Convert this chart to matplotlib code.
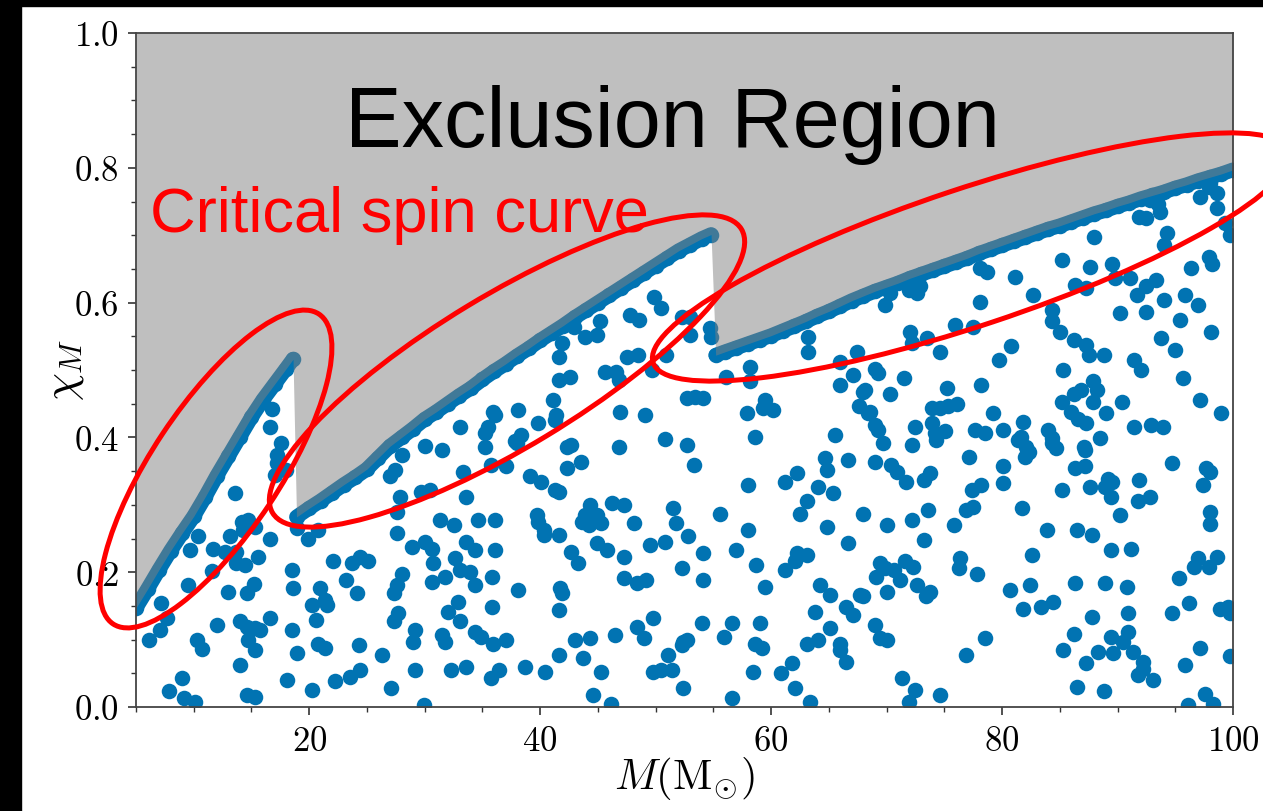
import matplotlib
matplotlib.use("Agg")
import matplotlib.pyplot as plt
import numpy as np
from matplotlib.patches import Ellipse, Rectangle
from matplotlib.ticker import MultipleLocator, FuncFormatter

plt.rcParams['mathtext.fontset'] = 'cm'
plt.rcParams['font.family'] = ['DejaVu Serif']

# ---------------- data ----------------
# critical spin curve (three branches)
crit1_x = [5.0, 6.0, 7.0, 8.0, 9.0, 10.0, 11.0, 12.0, 13.0, 14.0, 15.0, 16.0, 17.0, 18.0, 18.6]
crit1_y = [0.147, 0.175, 0.204, 0.232, 0.258, 0.283, 0.312, 0.343, 0.372, 0.401, 0.430, 0.456, 0.479, 0.502, 0.516]

crit2_x = [18.9, 20, 21, 22, 23, 24, 25, 26, 27, 28, 29, 30, 31, 32, 33, 34, 35, 36, 37, 38,
           39, 40, 41, 42, 43, 44, 45, 46, 47, 48, 49, 50, 51, 52, 53, 54, 54.8]
crit2_y = [0.282, 0.295, 0.306, 0.318, 0.330, 0.341, 0.353, 0.370, 0.387, 0.400, 0.413, 0.427,
           0.438, 0.450, 0.462, 0.473, 0.486, 0.498, 0.509, 0.521, 0.532, 0.544, 0.555, 0.566,
           0.578, 0.589, 0.600, 0.611, 0.622, 0.633, 0.644, 0.655, 0.666, 0.677, 0.686, 0.695, 0.701]

crit3_x = [55.2, 56, 57, 58, 59, 60, 61, 62, 63, 64, 65, 66, 67, 68, 69, 70, 71, 72, 73, 74, 75,
           76, 77, 78, 79, 80, 81, 82, 83, 84, 85, 86, 87, 88, 89, 90, 91, 92, 93, 94, 95, 96,
           97, 98, 99, 100]
crit3_y = [0.522, 0.527, 0.533, 0.539, 0.545, 0.551, 0.558, 0.565, 0.572, 0.580, 0.587, 0.595,
           0.603, 0.610, 0.617, 0.623, 0.629, 0.636, 0.642, 0.648, 0.654, 0.660, 0.666, 0.673,
           0.679, 0.685, 0.691, 0.697, 0.703, 0.709, 0.714, 0.720, 0.726, 0.732, 0.737, 0.743,
           0.748, 0.754, 0.759, 0.764, 0.770, 0.775, 0.781, 0.786, 0.791, 0.797]

# scattered samples (M, chi_M)
pts = [
 (17.6,0.392),(17.2,0.374),(17.2,0.362),(18.0,0.352),(17.0,0.344),(16.8,0.442),(16.6,0.416),
 (13.6,0.318),(10.4,0.254),(13.1,0.253),(14.2,0.274),(14.7,0.277),(15.3,0.267),(14.3,0.263),
 (16.6,0.249),(11.7,0.235),(12.7,0.230),(13.7,0.230),(9.7,0.233),(14.4,0.211),(13.7,0.213),
 (15.6,0.223),(11.6,0.202),(9.5,0.181),(13.0,0.170),(14.6,0.169),(15.2,0.182),(7.2,0.155),
 (7.7,0.132),(7.1,0.114),(6.1,0.099),(12.0,0.122),(14.0,0.127),(14.6,0.119),(15.3,0.117),
 (15.7,0.114),(14.7,0.099),(15.3,0.085),(16.6,0.132),(10.3,0.099),(10.7,0.086),(14.0,0.062),
 (9.0,0.043),(7.9,0.023),(9.2,0.013),(10.1,0.008),(14.6,0.018),(15.3,0.015),(18.5,0.203),
 (18.6,0.176),(18.5,0.114),(18.1,0.040),(20.2,0.025),(18.9,0.080),(20.2,0.151),(20.6,0.129),
 (20.9,0.176),(21.4,0.159),(21.5,0.151),(20.8,0.094),(21.4,0.087),(19.9,0.250),(20.8,0.263),
 (18.9,0.265),(22.1,0.216),(23.2,0.188),(23.7,0.213),(24.4,0.223),(25.1,0.216),(24.1,0.169),
 (24.3,0.092),(24.4,0.055),(23.5,0.045),(22.2,0.038),(26.3,0.077),(27.1,0.028),(29.2,0.055),
 (29.9,0.003),(27.3,0.127),(27.7,0.139),(27.3,0.169),(27.6,0.181),(28.0,0.198),(29.2,0.114),
 (29.0,0.097),(27.6,0.258),(28.9,0.238),(30.0,0.245),(30.6,0.235),(30.7,0.213),(30.6,0.186),
 (28.0,0.374),(27.4,0.352),(27.0,0.342),(27.9,0.312),(27.6,0.290),(30.0,0.387),(31.5,0.381),
 (29.7,0.319),(30.5,0.322),(31.3,0.277),(32.5,0.270),(33.6,0.312),(33.3,0.349),(35.2,0.386),
 (35.7,0.359),(34.6,0.277),(36.1,0.278),(33.6,0.245),(34.4,0.233),(32.6,0.221),(31.8,0.193),
 (33.1,0.203),(33.9,0.201),(34.4,0.181),(35.8,0.193),(36.1,0.233),(32.0,0.141),(32.9,0.156),
 (33.1,0.127),(31.5,0.107),(31.8,0.097),(34.4,0.112),(34.9,0.104),(35.8,0.149),(35.9,0.094),
 (32.3,0.055),(33.6,0.060),(35.7,0.043),(36.4,0.055),(35.9,0.438),(35.5,0.416),(35.2,0.406),
 (33.1,0.416),
 (49.9,0.609),(50.5,0.592),(47.8,0.582),(48.6,0.574),(45.2,0.572),(52.3,0.579),(53.0,0.579),
 (53.0,0.552),(54.7,0.562),(54.8,0.549),(42.9,0.564),(43.9,0.549),(44.9,0.552),(41.9,0.540),
 (41.6,0.520),(47.5,0.520),(48.5,0.522),(50.9,0.522),(45.6,0.497),(46.6,0.497),(46.8,0.485),
 (49.7,0.500),(41.6,0.485),(42.6,0.490),(41.1,0.455),(38.1,0.441),(36.1,0.433),(39.8,0.421),
 (41.4,0.433),(41.3,0.426),(46.9,0.438),(49.1,0.433),(38.3,0.404),(37.8,0.394),(42.7,0.389),
 (46.8,0.386),(50.8,0.398),(52.7,0.389),(52.7,0.458),(53.4,0.460),(54.1,0.458),(56.1,0.490),
 (58.2,0.505),(58.2,0.483),(57.9,0.436),(59.5,0.455),(59.3,0.443),(60.2,0.441),(58.6,0.401),
 (63.2,0.549),(63.2,0.527),(66.0,0.512),(67.1,0.493),(67.4,0.527),(66.0,0.478),(68.0,0.468),
 (67.6,0.446),(68.4,0.436),(65.5,0.404),
 (38.0,0.391),(37.0,0.357),(42.3,0.386),(53.3,0.359),(42.3,0.354),(43.5,0.364),(39.1,0.342),
 (40.1,0.334),(41.3,0.322),(41.6,0.319),(37.0,0.099),
 (39.7,0.285),(39.8,0.275),(40.3,0.263),(40.3,0.255),(41.6,0.255),(42.7,0.230),(43.3,0.213),
 (44.3,0.300),(43.9,0.285),(43.6,0.275),(44.2,0.270),(44.9,0.285),(45.3,0.273),(46.2,0.302),
 (47.3,0.300),(48.1,0.273),(44.9,0.243),(45.8,0.233),(47.3,0.223),(47.3,0.191),(48.4,0.184),
 (49.2,0.188),(49.5,0.240),(50.8,0.245),(51.5,0.295),(51.8,0.273),(52.8,0.253),(52.3,0.206),
 (54.1,0.228),(54.1,0.188),(55.6,0.287),(57.0,0.233),(58.0,0.329),(58.0,0.263),(58.7,0.211),
 (59.5,0.178),(61.2,0.334),(62.2,0.347),(64.1,0.327),(64.7,0.369),(64.8,0.352),(65.4,0.317),
 (63.1,0.305),(62.5,0.287),(66.7,0.366),(64.8,0.267),(68.0,0.287),(66.7,0.243),(62.2,0.228),
 (62.1,0.216),(63.1,0.226),(61.2,0.203),(64.2,0.181),(65.1,0.166),(67.7,0.166),(66.5,0.149),
 (67.1,0.137),(63.8,0.141),(65.1,0.117),(64.1,0.099),(63.1,0.094),(66.0,0.094),(66.0,0.085),
 (66.5,0.067),(61.8,0.065),(60.9,0.050),(62.1,0.028),(63.4,0.008),(59.0,0.124),(58.6,0.094),
 (59.2,0.087),(58.4,0.052),(56.6,0.124),(55.9,0.104),(56.6,0.013),(54.0,0.124),(52.4,0.097),
 (52.7,0.099),(52.3,0.092),(51.1,0.077),(49.8,0.052),(50.5,0.055),(51.4,0.055),(52.4,0.028),
 (49.8,0.132),(48.4,0.119),(49.0,0.102),(46.5,0.107),(44.3,0.102),(43.0,0.099),(43.7,0.072),
 (45.3,0.052),(44.6,0.018),(46.1,0.005),(41.6,0.077),(41.6,0.144),(41.7,0.176),(41.9,0.169),
 (38.1,0.174),(38.7,0.060),(40.4,0.052),
 (97.1,0.757),(97.9,0.772),(98.6,0.762),(98.6,0.740),(98.0,0.777),(99.3,0.718),(99.7,0.700),
 (92.8,0.752),(93.5,0.747),(93.7,0.735),(91.9,0.727),(92.5,0.725),(94.3,0.703),(94.0,0.685),
 (88.0,0.698),(85.2,0.663),(87.6,0.653),(89.5,0.658),(89.8,0.636),(91.1,0.636),(97.9,0.668),
 (98.2,0.658),(96.4,0.651),(93.3,0.634),(92.5,0.624),(91.7,0.611),(94.0,0.604),(95.8,0.611),
 (97.0,0.596),(95.4,0.574),(92.5,0.586),(90.2,0.584),(86.3,0.626),(87.3,0.621),(82.7,0.611),
 (81.1,0.638),(78.1,0.651),(78.7,0.646),(78.1,0.601),(72.6,0.614),(71.9,0.619),(72.9,0.624),
 (70.3,0.614),(69.9,0.596),(84.3,0.589),(84.3,0.572),(85.0,0.557),(86.2,0.544),(87.3,0.537),
 (87.5,0.522),(88.8,0.522),(93.8,0.547),(98.1,0.557),(95.0,0.530),(91.4,0.515),(92.0,0.500),
 (95.7,0.488),(85.3,0.500),(80.8,0.535),(79.7,0.515),(75.9,0.567),(77.5,0.564),(72.0,0.557),
 (72.2,0.540),(73.5,0.547),(74.6,0.527),(69.0,0.502),(69.3,0.495),(71.5,0.488),(68.1,0.470),
 (70.3,0.465),(75.2,0.473),(78.2,0.478),(73.9,0.443),(74.6,0.443),(75.3,0.446),(76.1,0.450),
 (68.6,0.438),(69.0,0.418),(69.3,0.411),(69.7,0.391),(72.5,0.416),(73.9,0.421),(74.2,0.406),
 (75.1,0.409),(72.2,0.389),(77.7,0.411),(78.5,0.406),(79.2,0.436),(80.1,0.411),(81.8,0.423),
 (81.6,0.401),(82.1,0.386),(84.0,0.411),(84.3,0.399),(85.2,0.453),(86.0,0.438),(86.6,0.428),
 (87.3,0.421),(86.2,0.465),(86.8,0.470),(87.9,0.483),(88.2,0.470),(87.9,0.453),(89.0,0.436),
 (90.4,0.453),(88.5,0.399),(87.1,0.386),(91.4,0.416),(92.9,0.418),(93.9,0.416),(97.1,0.455),
 (99.0,0.436),
 (74.3,0.396),(69.0,0.364),(70.4,0.359),(70.9,0.349),(71.7,0.334),(73.2,0.337),(73.8,0.347),
 (77.1,0.371),(77.4,0.322),(78.2,0.329),(80.1,0.357),(80.1,0.332),(82.0,0.371),(82.3,0.379),
 (81.4,0.396),(84.3,0.391),(84.7,0.384),(87.2,0.381),(86.3,0.354),(87.2,0.357),(85.2,0.322),
 (87.6,0.327),(88.9,0.327),(89.2,0.339),(89.5,0.334),(89.4,0.312),(91.9,0.337),(91.8,0.305),
 (92.8,0.312),(94.7,0.362),(97.7,0.354),(98.0,0.349),(97.4,0.329),(98.0,0.290),(98.0,0.272),
 (90.2,0.285),(70.0,0.270),(72.2,0.277),(73.6,0.292),(73.2,0.248),(75.8,0.270),(76.9,0.292),
 (77.5,0.297),(81.7,0.295),(83.9,0.263),(86.5,0.263),(87.8,0.255),(89.4,0.233),(91.2,0.235),
 (82.6,0.226),(69.4,0.213),(69.1,0.193),(69.9,0.206),(70.6,0.203),(71.2,0.188),(71.6,0.216),
 (72.3,0.208),(70.0,0.171),(72.6,0.181),(73.4,0.164),(73.8,0.171),(68.0,0.164),(76.4,0.221),
 (76.3,0.206),(77.8,0.198),(80.7,0.174),(82.4,0.181),(81.8,0.146),(83.4,0.149),(84.4,0.156),
 (86.3,0.184),(88.9,0.184),(90.8,0.178),(87.8,0.134),(90.9,0.139),(86.2,0.109),(85.3,0.085),
 (89.4,0.104),(88.3,0.082),(89.6,0.080),(90.9,0.112),(90.5,0.097),(91.3,0.082),(92.2,0.067),
 (92.2,0.057),(91.8,0.047),(93.1,0.040),(87.3,0.065),(86.5,0.030),(88.8,0.023),(94.7,0.139),
 (95.3,0.191),(96.2,0.154),(96.6,0.208),(97.0,0.221),(97.9,0.208),(98.6,0.223),(98.9,0.146),
 (99.6,0.149),(99.7,0.139),(97.1,0.087),(95.8,0.062),(99.7,0.075),(97.6,0.020),(98.3,0.005),
 (96.1,0.003),(78.5,0.102),(76.9,0.077),(69.0,0.122),(69.4,0.102),(70.0,0.099),(71.3,0.043),
 (72.5,0.025),(71.9,0.008),(74.6,0.018),
]
sample_M = [p[0] for p in pts]
sample_chi = [p[1] for p in pts]

x_ticks = [20, 40, 60, 80, 100]
y_ticks = [0.0, 0.2, 0.4, 0.6, 0.8, 1.0]

# ---------------- figure ----------------
W, H = 1263, 811
fig = plt.figure(figsize=(W / 100, H / 100), dpi=100)
ax = fig.add_axes([136 / W, 1 - 707 / H, (1233 - 136) / W, (707 - 33) / H])

blue = '#0173b2'
MS = 125
crit_x = crit1_x + crit2_x + crit3_x
crit_y = crit1_y + crit2_y + crit3_y

ax.scatter(sample_M, sample_chi, s=MS, color=blue, linewidths=0, zorder=2)
# densely sampled points along the critical curve form a continuous band
for cx, cy in [(crit1_x, crit1_y), (crit2_x, crit2_y), (crit3_x, crit3_y)]:
    ax.plot(cx, cy, color=blue, lw=10.6, solid_capstyle='round',
            solid_joinstyle='round', zorder=2)
ax.scatter(crit_x, crit_y, s=MS, color=blue, linewidths=0, zorder=2)
ax.fill_between(crit_x, crit_y, 1.0, color='gray', alpha=0.5, linewidth=0, zorder=3)

ax.set_xlim(5, 100)
ax.set_ylim(0, 1)
ax.set_xticks(x_ticks)
ax.set_yticks(y_ticks)
ax.xaxis.set_minor_locator(MultipleLocator(5))
ax.yaxis.set_minor_locator(MultipleLocator(0.05))
ax.xaxis.set_major_formatter(FuncFormatter(lambda v, p: r'$%d$' % v))
ax.yaxis.set_major_formatter(FuncFormatter(lambda v, p: r'$%.1f$' % v))
ax.tick_params(which='major', direction='out', length=6, width=1.2, labelsize=25,
               color='#333333', pad=6)
ax.tick_params(which='minor', direction='out', length=3.5, width=1.0, color='#333333')
for sp in ax.spines.values():
    sp.set_color('#444444')
    sp.set_linewidth(1.3)
    sp.set_zorder(5)

ax.set_xlabel(r'$M(\mathrm{M}_{\odot})$', fontsize=31, labelpad=-2)
ax.set_ylabel(r'$\chi_M$', fontsize=32, labelpad=-9)

# ---------------- annotations (figure pixel space) ----------------
def px(x, y):
    return (x / 100, (H - y) / 100)

ellipses = [((216, 469), 372, 128, 56.4),
            ((507, 371), 548, 152, 31.2),
            ((971, 257), 670, 137, 18.4)]
for (cx, cy), w, h, ang in ellipses:
    e = Ellipse(px(cx, cy), w / 100, h / 100, angle=ang, fill=False,
                edgecolor='#ff0000', linewidth=3.6, transform=fig.dpi_scale_trans, zorder=10)
    fig.add_artist(e)

fig.text(*px(345, 147), 'Exclusion Region', fontsize=61, color='black',
         family=['Liberation Sans', 'DejaVu Sans'], va='baseline', ha='left',
         transform=fig.dpi_scale_trans, zorder=11)
fig.text(*px(150, 232), 'Critical spin curve', fontsize=45.5, color='#ff0000',
         family=['Liberation Sans', 'DejaVu Sans'], va='baseline', ha='left',
         transform=fig.dpi_scale_trans, zorder=11)

# black screen borders (top and left)
fig.add_artist(Rectangle((0, 1 - 6 / H), 1, 6 / H, transform=fig.transFigure,
                         color='black', zorder=20))
fig.add_artist(Rectangle((0, 0), 21 / W, 1, transform=fig.transFigure,
                         color='black', zorder=20))

fig.savefig('out.png', dpi=100)
